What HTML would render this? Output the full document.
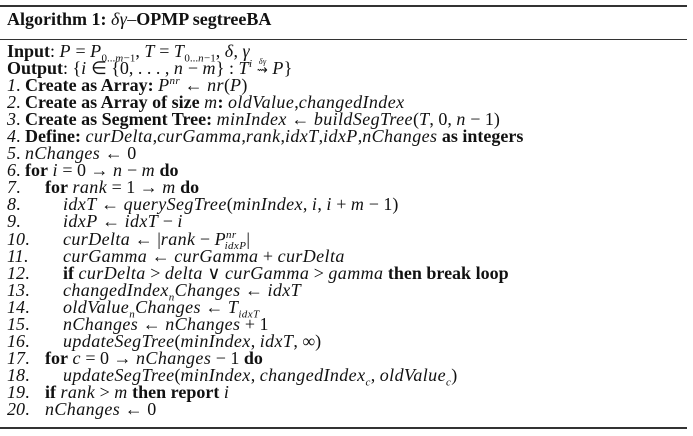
<!DOCTYPE html>
<html><head><meta charset="utf-8"><style>
html,body{margin:0;padding:0;background:#fff;width:693px;height:436px;overflow:hidden}
body{position:relative;font-family:"Liberation Serif",serif;color:#111;font-size:18px}
.rule{position:absolute;left:0;width:687px;height:1.5px;background:#333}
.title{position:absolute;left:7px;top:11px;line-height:17px;white-space:nowrap}
.body{position:absolute;left:7px;top:43px;line-height:17.05px;white-space:nowrap}
.l{position:relative;height:17.05px}
.n{font-style:italic;display:inline-block}
.i1{position:absolute;left:38px;top:0}
.i2{position:absolute;left:56px;top:0}
i{font-style:italic;letter-spacing:0.4px}
b{font-weight:bold}
sub,sup{font-size:11px;line-height:0}
.ar{font-size:15px}
</style></head><body>
<div class="rule" style="top:5px"></div>
<div class="title"><b>Algorithm 1:</b> <i>δγ</i>–<b>OPMP segtreeBA</b></div>
<div class="rule" style="top:38.5px"></div>
<div class="body">
<div class="l"><b>Input</b>: <i>P</i> = <i>P</i><sub>0...<i>m</i>−1</sub>, <i>T</i> = <i>T</i><sub>0...<i>n</i>−1</sub>, <i>δ</i>, <i>γ</i></div>
<div class="l"><b>Output</b>: {<i>i</i> ∈ {0, . . . , <i>n</i> − <i>m</i>} : <i>T</i><sup><i>i</i></sup> <span style="position:relative;font-size:13px">⇝<span style="position:absolute;left:2px;top:-9px;font-size:8px"><i>δγ</i></span></span> <i>P</i>}</div>
<div class="l"><span class="n">1</span>. <b>Create as Array:</b> <i>P</i><sup><i>nr</i></sup> ← <i>nr</i>(<i>P</i>)</div>
<div class="l"><span class="n">2</span>. <b>Create as Array of size</b> <i>m</i><b>:</b> <i>oldValue</i>,<i>changedIndex</i></div>
<div class="l"><span class="n">3</span>. <b>Create as Segment Tree:</b> <i>minIndex</i> ← <i>buildSegTree</i>(<i>T</i>, 0, <i>n</i> − 1)</div>
<div class="l"><span class="n">4</span>. <b>Define:</b> <i>curDelta</i>,<i>curGamma</i>,<i>rank</i>,<i>idxT</i>,<i>idxP</i>,<i>nChanges</i> <b>as integers</b></div>
<div class="l"><span class="n">5</span>. <i>nChanges</i> ← 0</div>
<div class="l"><span class="n">6</span>. <b>for</b> <i>i</i> = 0 → <i>n</i> − <i>m</i> <b>do</b></div>
<div class="l"><span class="n">7</span>.<span class="i1"><b>for</b> <i>rank</i> = 1 → <i>m</i> <b>do</b></span></div>
<div class="l"><span class="n">8</span>.<span class="i2"><i>idxT</i> ← <i>querySegTree</i>(<i>minIndex</i>, <i>i</i>, <i>i</i> + <i>m</i> − 1)</span></div>
<div class="l"><span class="n">9</span>.<span class="i2"><i>idxP</i> ← <i>idxT</i> − <i>i</i></span></div>
<div class="l"><span class="n">10</span>.<span class="i2"><i>curDelta</i> ← |<i>rank</i> − <i>P</i><sup><i>nr</i></sup><sub style="margin-left:-12px"><i>idxP</i></sub>|</span></div>
<div class="l"><span class="n">11</span>.<span class="i2"><i>curGamma</i> ← <i>curGamma</i> + <i>curDelta</i></span></div>
<div class="l"><span class="n">12</span>.<span class="i2"><b>if</b> <i>curDelta</i> &gt; <i>delta</i> ∨ <i>curGamma</i> &gt; <i>gamma</i> <b>then break loop</b></span></div>
<div class="l"><span class="n">13</span>.<span class="i2"><i>changedIndex</i><sub><i>n</i></sub><i>Changes</i> ← <i>idxT</i></span></div>
<div class="l"><span class="n">14</span>.<span class="i2"><i>oldValue</i><sub><i>n</i></sub><i>Changes</i> ← <i>T</i><sub><i>idxT</i></sub></span></div>
<div class="l"><span class="n">15</span>.<span class="i2"><i>nChanges</i> ← <i>nChanges</i> + 1</span></div>
<div class="l"><span class="n">16</span>.<span class="i2"><i>updateSegTree</i>(<i>minIndex</i>, <i>idxT</i>, ∞)</span></div>
<div class="l"><span class="n">17</span>.<span class="i1"><b>for</b> <i>c</i> = 0 → <i>nChanges</i> − 1 <b>do</b></span></div>
<div class="l"><span class="n">18</span>.<span class="i2"><i>updateSegTree</i>(<i>minIndex</i>, <i>changedIndex</i><sub><i>c</i></sub>, <i>oldValue</i><sub><i>c</i></sub>)</span></div>
<div class="l"><span class="n">19</span>.<span class="i1"><b>if</b> <i>rank</i> &gt; <i>m</i> <b>then report</b> <i>i</i></span></div>
<div class="l"><span class="n">20</span>.<span class="i1"><i>nChanges</i> ← 0</span></div>
</div>
<div class="rule" style="top:427px"></div>
</body></html>
